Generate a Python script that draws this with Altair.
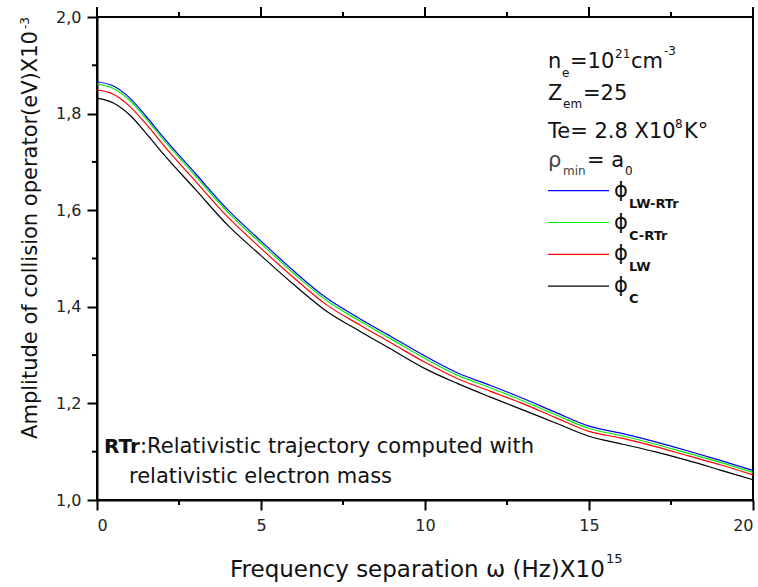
import altair as alt
import pandas as pd

FONT = "DejaVu Sans"

# ---- data ----
freq = [0, 0.5, 1, 1.5, 2, 3, 4, 5, 6, 7, 8, 9, 10, 11, 12, 13, 14, 15, 16, 17, 18, 19, 20]
phi_lw_rtr = [1.866, 1.857, 1.832, 1.794, 1.753, 1.676, 1.600, 1.536, 1.474, 1.418, 1.376, 1.337,
              1.298, 1.263, 1.237, 1.210, 1.181, 1.153, 1.138, 1.121, 1.102, 1.082, 1.061]
phi_c_rtr = [1.861, 1.852, 1.827, 1.789, 1.748, 1.671, 1.595, 1.531, 1.469, 1.413, 1.371, 1.332,
             1.293, 1.258, 1.232, 1.205, 1.176, 1.148, 1.133, 1.116, 1.097, 1.078, 1.057]
phi_lw = [1.849, 1.840, 1.815, 1.778, 1.737, 1.660, 1.585, 1.521, 1.460, 1.404, 1.363, 1.324,
          1.285, 1.251, 1.225, 1.199, 1.170, 1.142, 1.128, 1.111, 1.092, 1.073, 1.052]
phi_c = [1.832, 1.822, 1.797, 1.759, 1.718, 1.643, 1.568, 1.506, 1.446, 1.391, 1.350, 1.311,
         1.272, 1.241, 1.213, 1.186, 1.159, 1.132, 1.116, 1.100, 1.082, 1.062, 1.042]

series_draw_order = [("phi_C", phi_c, "#000000"),
                     ("phi_LW", phi_lw, "#ff0000"),
                     ("phi_C-RTr", phi_c_rtr, "#00ee00"),
                     ("phi_LW-RTr", phi_lw_rtr, "#0000ff")]

x_major = [0, 5, 10, 15, 20]
x_minor = [2.5, 7.5, 12.5, 17.5]
y_major = [1.0, 1.2, 1.4, 1.6, 1.8, 2.0]
y_minor = [1.1, 1.3, 1.5, 1.7, 1.9]

W, H = 656, 483

xs = alt.Scale(domain=[0, 20], nice=False, zero=False)
ys = alt.Scale(domain=[1.0, 2.0], nice=False, zero=False)

x_axis = alt.Axis(values=x_major, title="", tickSize=10, labelPadding=7, grid=False)
y_axis = alt.Axis(values=y_major, title="", tickSize=10, labelPadding=6, grid=False,
                  labelExpr="replace(format(datum.value, '.1f'), '.', ',')")

layers = []
for name, vals, col in series_draw_order:
    d = pd.DataFrame({"f": freq, "v": vals, "s": name})
    layers.append(
        alt.Chart(d).mark_line(color=col, strokeWidth=1.2, interpolate="monotone").encode(
            x=alt.X("f:Q", scale=xs, axis=x_axis),
            y=alt.Y("v:Q", scale=ys, axis=y_axis),
        )
    )


def xticks(vals, y0, y1):
    return alt.Chart(pd.DataFrame({"f": vals})).mark_rule(color="black", strokeWidth=2).encode(
        x=alt.X("f:Q", scale=xs, axis=x_axis), y=alt.value(y0), y2=alt.value(y1))


def yticks(vals, x0, x1):
    return alt.Chart(pd.DataFrame({"v": vals})).mark_rule(color="black", strokeWidth=2).encode(
        y=alt.Y("v:Q", scale=ys, axis=y_axis), x=alt.value(x0), x2=alt.value(x1))


layers += [
    xticks(x_major, 0, -10),      # top major
    xticks(x_minor, 0, -5),       # top minor
    xticks(x_minor, H, H + 5),    # bottom minor
    yticks(y_minor, 0, -5),       # left minor
]


def txt(text, x, y, size, bold=False, color="#111111", angle=0, align="left", font=FONT):
    kw = dict(align=align, baseline="alphabetic", font=font, fontSize=size,
              fontWeight="bold" if bold else "normal", color=color)
    if angle:
        kw["angle"] = angle
    return alt.Chart(pd.DataFrame({"t": [text]})).mark_text(**kw).encode(
        x=alt.value(x), y=alt.value(y), text="t:N")


S = 21   # main annotation size
SS = 12  # sub/superscript size

# parameters block (top right)
layers += [
    txt("n", 451, 51, S), txt("e", 465, 60, SS), txt("=10", 473, 51, S),
    txt("21", 518, 41, SS), txt("cm", 534, 51, S), txt("-3", 567, 38, SS),
    txt("Z", 451, 83, S), txt("em", 466, 91, SS), txt("=25", 486, 83, S),
    txt("Te= 2.8 X10", 451, 121, S), txt("8", 578, 111, SS), txt("K°", 587, 121, S),
    txt("ρ", 451, 150, S, color="#444444"), txt("min", 466, 158, SS, color="#444444"),
    txt("= a", 490, 150, S), txt("0", 528, 158, SS),
]

# legend
legend_items = [("LW-RTr", "#0000ff"), ("C-RTr", "#00ee00"), ("LW", "#ff0000"), ("C", "#000000")]
for i, (lab, col) in enumerate(legend_items):
    yl = 173.7 + 31.8 * i
    layers.append(
        alt.Chart(pd.DataFrame({"k": [lab]})).mark_rule(color=col, strokeWidth=1.2).encode(
            x=alt.value(451), x2=alt.value(512), y=alt.value(yl))
    )
    layers.append(txt("ϕ", 517, yl + 6, S))
    layers.append(txt(lab, 532, yl + 17, 13, bold=True))

# note (bottom left)
layers += [
    txt("RTr", 7, 436, 20, bold=True),
    txt(":Relativistic trajectory computed with", 43, 436, S),
    txt("relativistic electron mass", 32, 466, S),
]

# axis titles
layers += [
    txt("Amplitude of collision operator(eV)X10", -60, 218, S, angle=270, align="center"),
    txt("-3", -68, 12, SS, angle=270),
    txt("Frequency separation ω (Hz)X10", 133, 560, 23),
    txt("15", 509, 546, 13),
]

chart = alt.layer(*layers).properties(
    width=W, height=H,
    padding={"left": 97, "top": 17, "right": 5, "bottom": 87},
    autosize=alt.AutoSizeParams(type="none"),
    background="white",
).configure_view(
    stroke="black", strokeWidth=2
).configure_axis(
    domainColor="black", domainWidth=2, tickColor="black", tickWidth=2,
    labelFont=FONT, labelFontSize=16, labelColor="#222222", grid=False,
)

chart.save("out.html", embed_options={"renderer": "svg", "actions": False})
